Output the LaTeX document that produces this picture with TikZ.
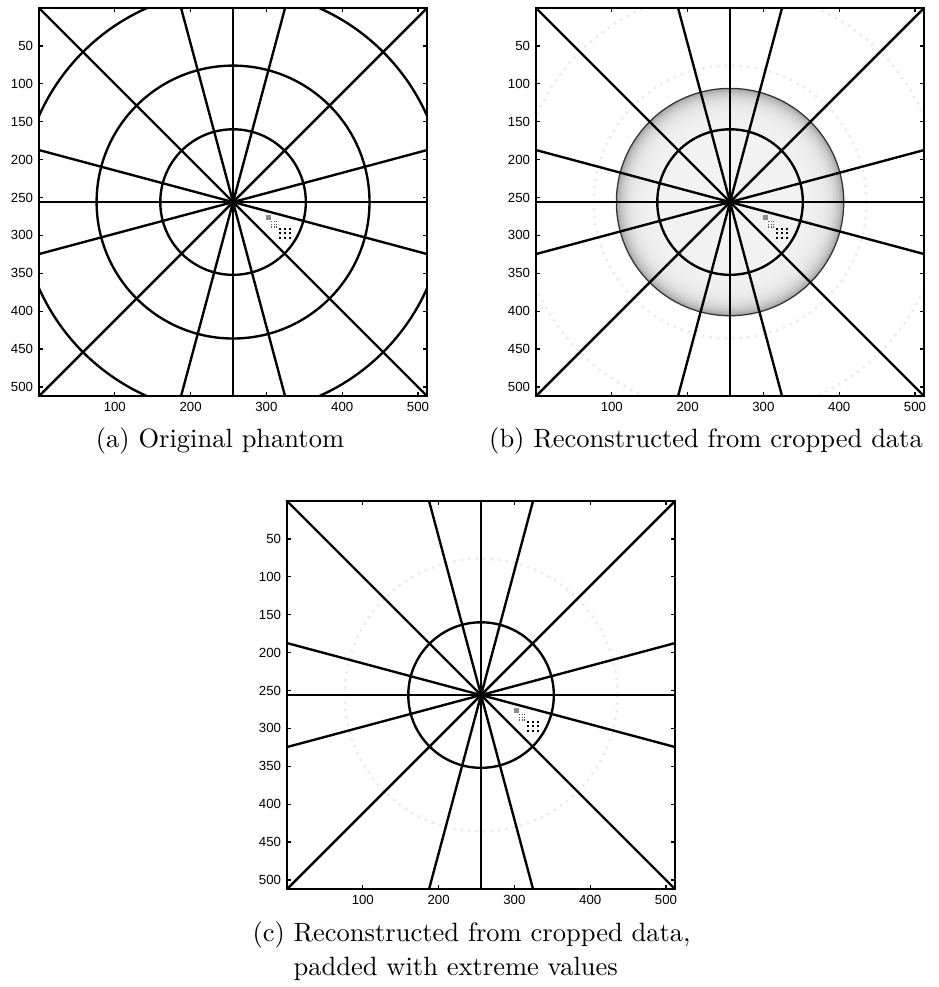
\documentclass[tikz,border=0pt]{standalone}
\usepackage{fontspec}
\newfontfamily\tickfont{Liberation Sans}
\usetikzlibrary{positioning}
\colorlet{ghost}{black!8}

% axes box, ticks and tick labels of one image panel (data units)
\newcommand{\imgaxes}[1]{%
  \draw[frame] (0,0) rectangle (512,512);
  \foreach \v in {100,200,...,500} {
    \draw[frame] (\v,512) -- ++(0,-5.3);
    \draw[frame] (\v,0) -- ++(0,5.3);
    \node[xlbl] (#1x\v) at (\v,512) {\v};
  }
  \foreach \v in {50,100,...,500} {
    \draw[frame] (0,\v) -- ++(5.3,0);
    \draw[frame] (512,\v) -- ++(-5.3,0);
    \node[ylbl] (#1y\v) at (0,\v) {\v};
  }}
% spokes, inner ring and resolution dots
\newcommand{\spokes}{%
  \foreach \a in {0,15,45,75,90,105,135,165}
    \draw[phline] (256,256) -- +(\a:400) (256,256) -- +(\a:-400);
  \draw[phline] (256,256) circle (96);
  \fill[black!45] (299,273) rectangle (306,280);
  \foreach \i in {0,1,2} \foreach \j in {0,1,2} {
    \fill[black!65] (306+3.5*\i,281+3.5*\j) rectangle ++(1.6,1.6);
    \fill (317+6.5*\i,290+6*\j) rectangle ++(2.6,2.6);
  }}

\begin{document}
\begin{tikzpicture}[x=0.4pt,y=-0.4pt,
    phline/.style={line width=0.95pt},
    frame/.style={line width=0.5pt},
    xlbl/.style={anchor=north,inner sep=0pt,yshift=-2.4pt,font=\tickfont\fontsize{5.3}{6}\selectfont},
    ylbl/.style={anchor=east,inner sep=0pt,xshift=-2.2pt,font=\tickfont\fontsize{5.3}{6}\selectfont},
    capt/.style={inner sep=0pt,font=\fontsize{10.6}{13.6}\selectfont}]
  \useasboundingbox (0,0) rectangle (939,987);

  % (a) original phantom
  \begin{scope}[shift={(39,8)},x=0.3032pt,y=-0.3032pt]
    \begin{scope}
      \clip (0,0) rectangle (512,512);
      \spokes
      \draw[phline] (256,256) circle (180) (256,256) circle (280);
    \end{scope}
    \imgaxes{a}
  \end{scope}
  \node[capt,anchor=base] (capa) at (220,447) {(a) Original phantom};

  % (b) cropped data
  \begin{scope}[shift={(536,8)},x=0.3032pt,y=-0.3032pt]
    \begin{scope}
      \clip (0,0) rectangle (512,512);
      % grey disk, darker towards its rim
      \foreach \d in {0,2,...,64} {
        \pgfmathsetmacro{\g}{5+30*exp(-\d/11)}
        \fill[black!\g] (256,256) circle (150-\d);
      }
      \draw[black!80,line width=0.5pt] (256,256) circle (150);
      \draw[ghost,dotted,line width=1pt] (256,256) circle (180) (256,256) circle (280);
      \spokes
    \end{scope}
    \imgaxes{b}
  \end{scope}
  \node[capt,anchor=base] (capb) at (706,447) {(b) Reconstructed from cropped data};

  % (c) padded with extreme values
  \begin{scope}[shift={(287,501)},x=0.3032pt,y=-0.3032pt]
    \begin{scope}
      \clip (0,0) rectangle (512,512);
      \draw[ghost,dotted,line width=1pt] (256,256) circle (180);
      \spokes
    \end{scope}
    \imgaxes{c}
  \end{scope}
  \node[capt,anchor=base west] (capc) at (252,941)
    {\begin{tabular}[t]{@{}l@{ }l@{}}(c) & Reconstructed from cropped data,\\ & padded with extreme values\end{tabular}};
\end{tikzpicture}
\end{document}
